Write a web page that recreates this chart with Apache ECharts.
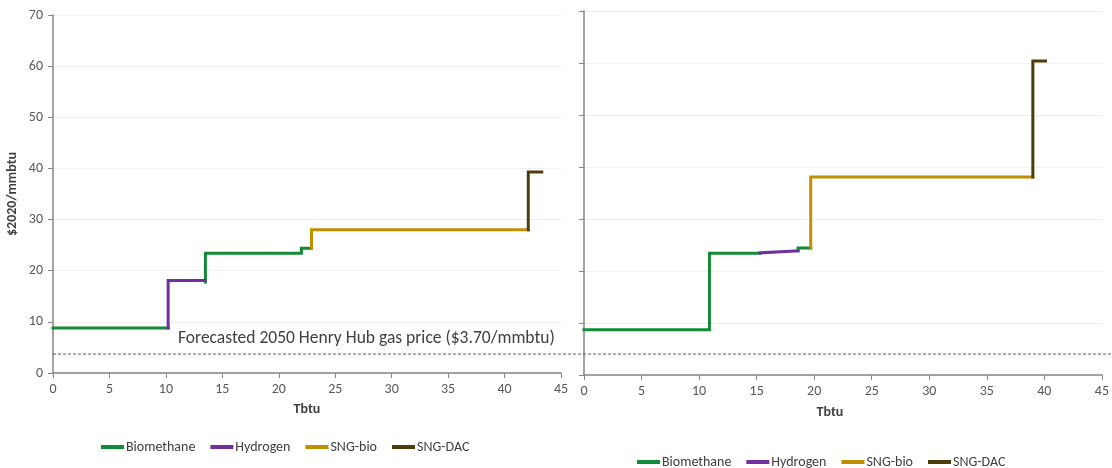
<!DOCTYPE html>
<html>
<head>
<meta charset="utf-8">
<script src="https://cdn.jsdelivr.net/npm/echarts@6/dist/echarts.min.js"></script>
<style>html,body{margin:0;padding:0;background:#fff;}#c{width:1112px;height:468px;}</style>
</head>
<body>
<div id="c"></div>
<script>
// ---- Data ----
var seriesNames = ['Biomethane', 'Hydrogen', 'SNG-bio', 'SNG-DAC'];
var seriesColors = ['#138a36', '#7030a0', '#bf8f00', '#4f3b0b'];
var xTicks = [0, 5, 10, 15, 20, 25, 30, 35, 40, 45];
var yTicks = [0, 10, 20, 30, 40, 50, 60, 70];
var henryHubPrice = 3.7;
var henryHubLabel = 'Forecasted 2050 Henry Hub gas price ($3.70/mmbtu)';
var gap = ['-', '-'];

// Left panel (supply curve steps: [Tbtu, $2020/mmbtu])
var leftBiomethane = [[0, 8.8], [10.2, 8.8], gap, [13.5, 17.8], [13.5, 23.4], [22.0, 23.4], [22.0, 24.4], [22.9, 24.4]];
var leftHydrogen = [[10.2, 8.8], [10.2, 18.1], [13.5, 18.1]];
var leftSngBio = [[22.9, 24.4], [22.9, 28.0], [42.1, 28.0]];
var leftSngDac = [[42.1, 28.0], [42.1, 39.3], [43.3, 39.3]];

// Right panel
var rightBiomethane = [[0, 8.7], [10.9, 8.7], [10.9, 23.4], [15.3, 23.4], gap, [18.6, 23.9], [18.6, 24.4], [19.7, 24.4]];
var rightHydrogen = [[15.3, 23.5], [18.6, 23.9]];
var rightSngBio = [[19.7, 24.4], [19.7, 38.1], [39.0, 38.1]];
var rightSngDac = [[39.0, 38.1], [39.0, 60.4], [40.1, 60.4]];

var henryHubLine = [[0, henryHubPrice], [1, henryHubPrice]];

var FONT = 'Carlito, Lato, "Open Sans", sans-serif';
var leftData = [leftBiomethane, leftHydrogen, leftSngBio, leftSngDac];
var rightData = [rightBiomethane, rightHydrogen, rightSngBio, rightSngDac];

function xAxisDef(gridIndex, nameGap, namePad) {
  return {
    type: 'value', gridIndex: gridIndex, min: xTicks[0], max: xTicks[xTicks.length - 1], interval: 5,
    name: 'Tbtu', nameLocation: 'middle', nameGap: nameGap,
    nameTextStyle: { fontFamily: FONT, fontWeight: 'bold', fontSize: 14, color: '#404040', padding: namePad },
    axisLine: { show: true, onZero: false, lineStyle: { color: '#868686', width: 1.5 } },
    axisTick: { show: true, length: 5, lineStyle: { color: '#868686' } },
    axisLabel: { fontFamily: FONT, fontSize: 14, color: '#595959', margin: 9 },
    splitLine: { show: false }
  };
}
function yAxisDef(gridIndex, showLabels) {
  return {
    type: 'value', gridIndex: gridIndex, min: yTicks[0], max: yTicks[yTicks.length - 1], interval: 10,
    name: showLabels ? '$2020/mmbtu' : '', nameLocation: 'middle', nameGap: 34, nameRotate: 90,
    nameTextStyle: { fontFamily: FONT, fontWeight: 'bold', fontSize: 14, color: '#404040' },
    axisLine: { show: true, lineStyle: { color: '#868686', width: 1.5 } },
    axisTick: { show: true, length: 5, lineStyle: { color: '#868686' } },
    axisLabel: { show: showLabels, fontFamily: FONT, fontSize: 14, color: '#595959', margin: 10 },
    splitLine: { show: true, lineStyle: { color: '#efefef', width: 1 } }
  };
}

var series = [];
function addPanel(dataArr, idx) {
  dataArr.forEach(function (d, i) {
    series.push({
      type: 'line', name: seriesNames[i], xAxisIndex: idx, yAxisIndex: idx,
      data: d, showSymbol: false, symbol: 'none', connectNulls: false,
      color: seriesColors[i],
      lineStyle: { width: 3, color: seriesColors[i], cap: 'square', join: 'miter' },
      z: 3 + i, silent: true, animation: false
    });
  });
}
addPanel(leftData, 0);
addPanel(rightData, 1);
series.push({
  type: 'line', name: 'HenryHub', xAxisIndex: 2, yAxisIndex: 2, data: henryHubLine,
  symbol: 'none', lineStyle: { width: 1, color: '#5f5f5f', type: [3, 2] }, z: 1, silent: true, animation: false
});

var legendBase = {
  data: seriesNames, icon: 'rect', itemWidth: 23, itemHeight: 4, itemGap: 15, padding: 0,
  textStyle: { fontFamily: FONT, fontSize: 14, color: '#404040', padding: [0, 0, 0, -3] },
  selectedMode: false
};

var option = {
  animation: false,
  backgroundColor: '#ffffff',
  grid: [
    { left: 53, top: 15, width: 508, height: 358 },
    { left: 584, top: 11, width: 518, height: 364 },
    { left: 53, top: 15, right: 0, height: 358 }
  ],
  xAxis: [
    xAxisDef(0, 29, [0, 0, 0, 0]),
    xAxisDef(1, 30, [0, 26, 0, 0]),
    { type: 'value', gridIndex: 2, min: 0, max: 1, show: false }
  ],
  yAxis: [
    yAxisDef(0, true),
    yAxisDef(1, false),
    { type: 'value', gridIndex: 2, min: 0, max: 70, show: false }
  ],
  legend: [
    Object.assign({}, legendBase, { left: 101, top: 440 }),
    Object.assign({}, legendBase, { left: 637, top: 455 })
  ],
  graphic: [
    { type: 'text', left: 178, top: 330, silent: true,
      style: { text: henryHubLabel, font: '17.5px ' + FONT, fill: '#404040' } }
  ],
  series: series
};

var chart = echarts.init(document.getElementById('c'), null, { renderer: 'canvas' });
chart.setOption(option);
</script>
</body>
</html>
